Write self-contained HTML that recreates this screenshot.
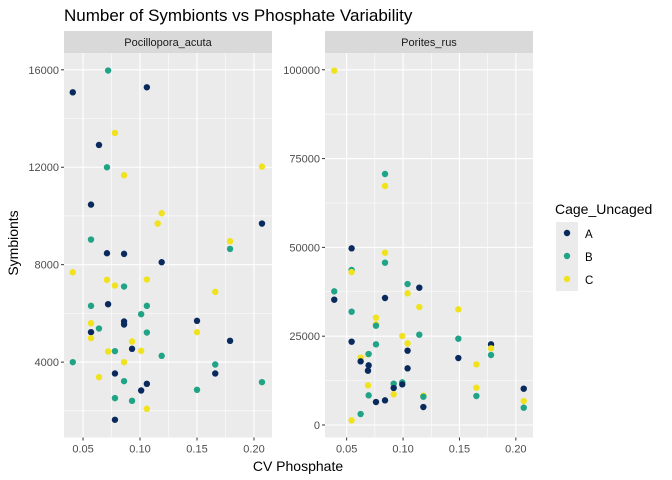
<!DOCTYPE html>
<html><head><meta charset="utf-8"><style>
html,body{margin:0;padding:0;background:#fff;}
svg{display:block;font-family:"Liberation Sans",Arial,sans-serif;}
</style></head><body>
<svg id="chart" width="672" height="480" viewBox="0 0 672 480">
<text x="64" y="21" font-size="17" fill="#000">Number of Symbionts vs Phosphate Variability</text>
<text x="298" y="471" font-size="14" text-anchor="middle" fill="#000">CV Phosphate</text>
<text transform="translate(18,243) rotate(-90)" font-size="14" text-anchor="middle" fill="#000">Symbionts</text>
<g>
<text x="555" y="214" font-size="14" fill="#000">Cage_Uncaged</text>
<rect x="556" y="222" width="22" height="69" fill="#ebebeb"/>
<circle cx="567" cy="233" r="3.2" fill="#0a2a5e"/>
<circle cx="567" cy="256" r="3.2" fill="#20a386"/>
<circle cx="567" cy="279" r="3.2" fill="#f0e21c"/>
<text x="585" y="238" font-size="11.5" fill="#000">A</text>
<text x="585" y="261" font-size="11.5" fill="#000">B</text>
<text x="585" y="284" font-size="11.5" fill="#000">C</text>
</g>
</svg>
<script>
// Pocillopora_acuta
const pocX = [0.072,0.041,0.106,0.078,0.064,0.071,0.086,0.207,0.057,0.119,0.1155,0.207,0.057,0.179,0.179,0.071,0.086,0.119,0.041,0.071,0.106,0.078,0.086,0.166,0.057,0.072,0.106,0.101,0.150,0.086,0.086,0.057,0.064,0.057,0.150,0.106,0.057,0.093,0.179,0.093,0.078,0.072,0.101,0.119,0.041,0.086,0.166,0.078,0.166,0.064,0.086,0.207,0.106,0.101,0.150,0.078,0.093,0.106,0.078];
const pocY = [15970,15076,15282,13408,12915,11999,11671,12027,10467,10112,9688,9688,9031,8963,8648,8470,8443,8101,7691,7376,7390,7144,7103,6884,6309,6378,6309,5967,5694,5667,5543,5598,5379,5229,5229,5215,4983,4846,4874,4545,4450,4436,4463,4258,3998,3998,3902,3533,3533,3383,3218,3177,3109,2835,2863,2521,2411,2083,1632];
const pocG = ["B","A","A","C","A","B","C","C","A","C","C","A","B","C","B","A","A","A","C","C","C","C","B","C","B","A","B","B","A","A","A","C","B","A","C","B","C","C","A","A","B","C","C","B","B","C","B","A","A","C","B","B","A","A","B","B","B","C","A"];
// Porites_rus
const porX = [0.039,0.084,0.084,0.0544,0.084,0.084,0.0544,0.0544,0.104,0.039,0.104,0.1144,0.039,0.084,0.1144,0.0544,0.149,0.076,0.076,0.076,0.0993,0.1144,0.149,0.0544,0.104,0.076,0.178,0.178,0.104,0.0689,0.0695,0.178,0.0624,0.149,0.0624,0.165,0.0695,0.0689,0.104,0.0917,0.0993,0.0993,0.0917,0.207,0.0689,0.165,0.0917,0.118,0.118,0.165,0.0695,0.207,0.207,0.118,0.084,0.076,0.0624,0.0544];
const porY = [99745,70655,67276,49730,48508,45693,43630,43066,39688,37623,37057,38653,35277,35747,33212,31897,32555,30210,28334,27958,25049,25424,24298,23453,22984,22702,22702,21576,20919,19887,19981,19699,18949,18855,17917,17072,16790,15288,15945,11628,12003,11440,10408,10221,11158,10502,8625,8250,7968,8156,8344,6748,4871,5059,6936,6467,3089,1306];
const porG = ["C","B","C","A","C","B","B","C","B","B","C","A","A","A","C","B","C","C","C","B","C","B","B","A","C","B","A","C","A","C","B","B","C","A","A","C","A","A","A","B","B","A","A","A","C","C","C","C","B","B","B","C","B","A","A","A","B","C"];
const pocXTicks = [0.05,0.10,0.15,0.20];
const pocXLabels = ["0.05","0.10","0.15","0.20"];
const pocYTicks = [4000,8000,12000,16000];
const pocYLabels = ["4000","8000","12000","16000"];
const porXTicks = [0.05,0.10,0.15,0.20];
const porXLabels = ["0.05","0.10","0.15","0.20"];
const porYTicks = [0,25000,50000,75000,100000];
const porYLabels = ["0","25000","50000","75000","100000"];

const colors = {A:"#0a2a5e",B:"#20a386",C:"#f0e21c"};
const NS = "http://www.w3.org/2000/svg";
const svg = document.getElementById("chart");
function mk(tag, attrs, parent){const e=document.createElementNS(NS,tag);for(const k in attrs)e.setAttribute(k,attrs[k]);(parent||svg).appendChild(e);return e;}

function panel(cfg){
  const {name,x0,x1,y0,y1,xmin,xmax,ymin,ymax,xs,ys,gs,xt,xl,yt,yl,title} = cfg;
  const sx = v => x0 + (v-xmin)/(xmax-xmin)*(x1-x0);
  const sy = v => y1 - (v-ymin)/(ymax-ymin)*(y1-y0);
  const g = mk("g",{});
  
  
  const strip = mk("rect",{x:x0,y:31,width:x1-x0,height:22,fill:"#d9d9d9"},g);
  
  
  const st = mk("text",{x:(x0+x1)/2,y:46,"font-size":"11","text-anchor":"middle",fill:"#1a1a1a"},g);
  st.textContent = title;
  
  
  const bg = mk("rect",{x:x0,y:y0,width:x1-x0,height:y1-y0,fill:"#ebebeb"},g);
  
  
  // minor gridlines
  const xstep = xt[1]-xt[0], ystep = yt[1]-yt[0];
  for(let v=xt[0]-xstep/2; v<=xmax; v+=xstep){ if(v<xmin) continue; const l=mk("line",{x1:sx(v),x2:sx(v),y1:y0,y2:y1,stroke:"#fff","stroke-width":"0.55"},g);   }
  for(let v=yt[0]-ystep/2; v<=ymax; v+=ystep){ if(v<ymin) continue; const l=mk("line",{y1:sy(v),y2:sy(v),x1:x0,x2:x1,stroke:"#fff","stroke-width":"0.55"},g);   }
  xt.forEach((v,i)=>{
    const l=mk("line",{x1:sx(v),x2:sx(v),y1:y0,y2:y1,stroke:"#fff","stroke-width":"1.1"},g);
     
    const tk=mk("line",{x1:sx(v),x2:sx(v),y1:y1,y2:y1+3,stroke:"#333","stroke-width":"1"},g);
     
    const t=mk("text",{x:sx(v),y:y1+15,"font-size":"11","text-anchor":"middle",fill:"#4d4d4d"},g);
    t.textContent=xl[i];
     
  });
  yt.forEach((v,i)=>{
    const l=mk("line",{y1:sy(v),y2:sy(v),x1:x0,x2:x1,stroke:"#fff","stroke-width":"1.1"},g);
     
    const tk=mk("line",{y1:sy(v),y2:sy(v),x1:x0-3,x2:x0,stroke:"#333","stroke-width":"1"},g);
     
    const t=mk("text",{x:x0-5,y:sy(v)+4,"font-size":"11","text-anchor":"end",fill:"#4d4d4d"},g);
    t.textContent=yl[i];
     
  });
  xs.forEach((v,i)=>{
    const c=mk("circle",{cx:sx(v),cy:sy(ys[i]),r:"3.2",fill:colors[gs[i]]},g);
    
    
  });
}
panel({name:"pocillopora",title:"Pocillopora_acuta",x0:64,x1:272,y0:53,y1:437.5,xmin:0.0333,xmax:0.2158,ymin:905,ymax:16690,xs:pocX,ys:pocY,gs:pocG,xt:pocXTicks,xl:pocXLabels,yt:pocYTicks,yl:pocYLabels});
panel({name:"porites",title:"Porites_rus",x0:325,x1:533,y0:53,y1:437.5,xmin:0.0308,xmax:0.2152,ymin:-3520,ymax:104720,xs:porX,ys:porY,gs:porG,xt:porXTicks,xl:porXLabels,yt:porYTicks,yl:porYLabels});
</script>
</body></html>
